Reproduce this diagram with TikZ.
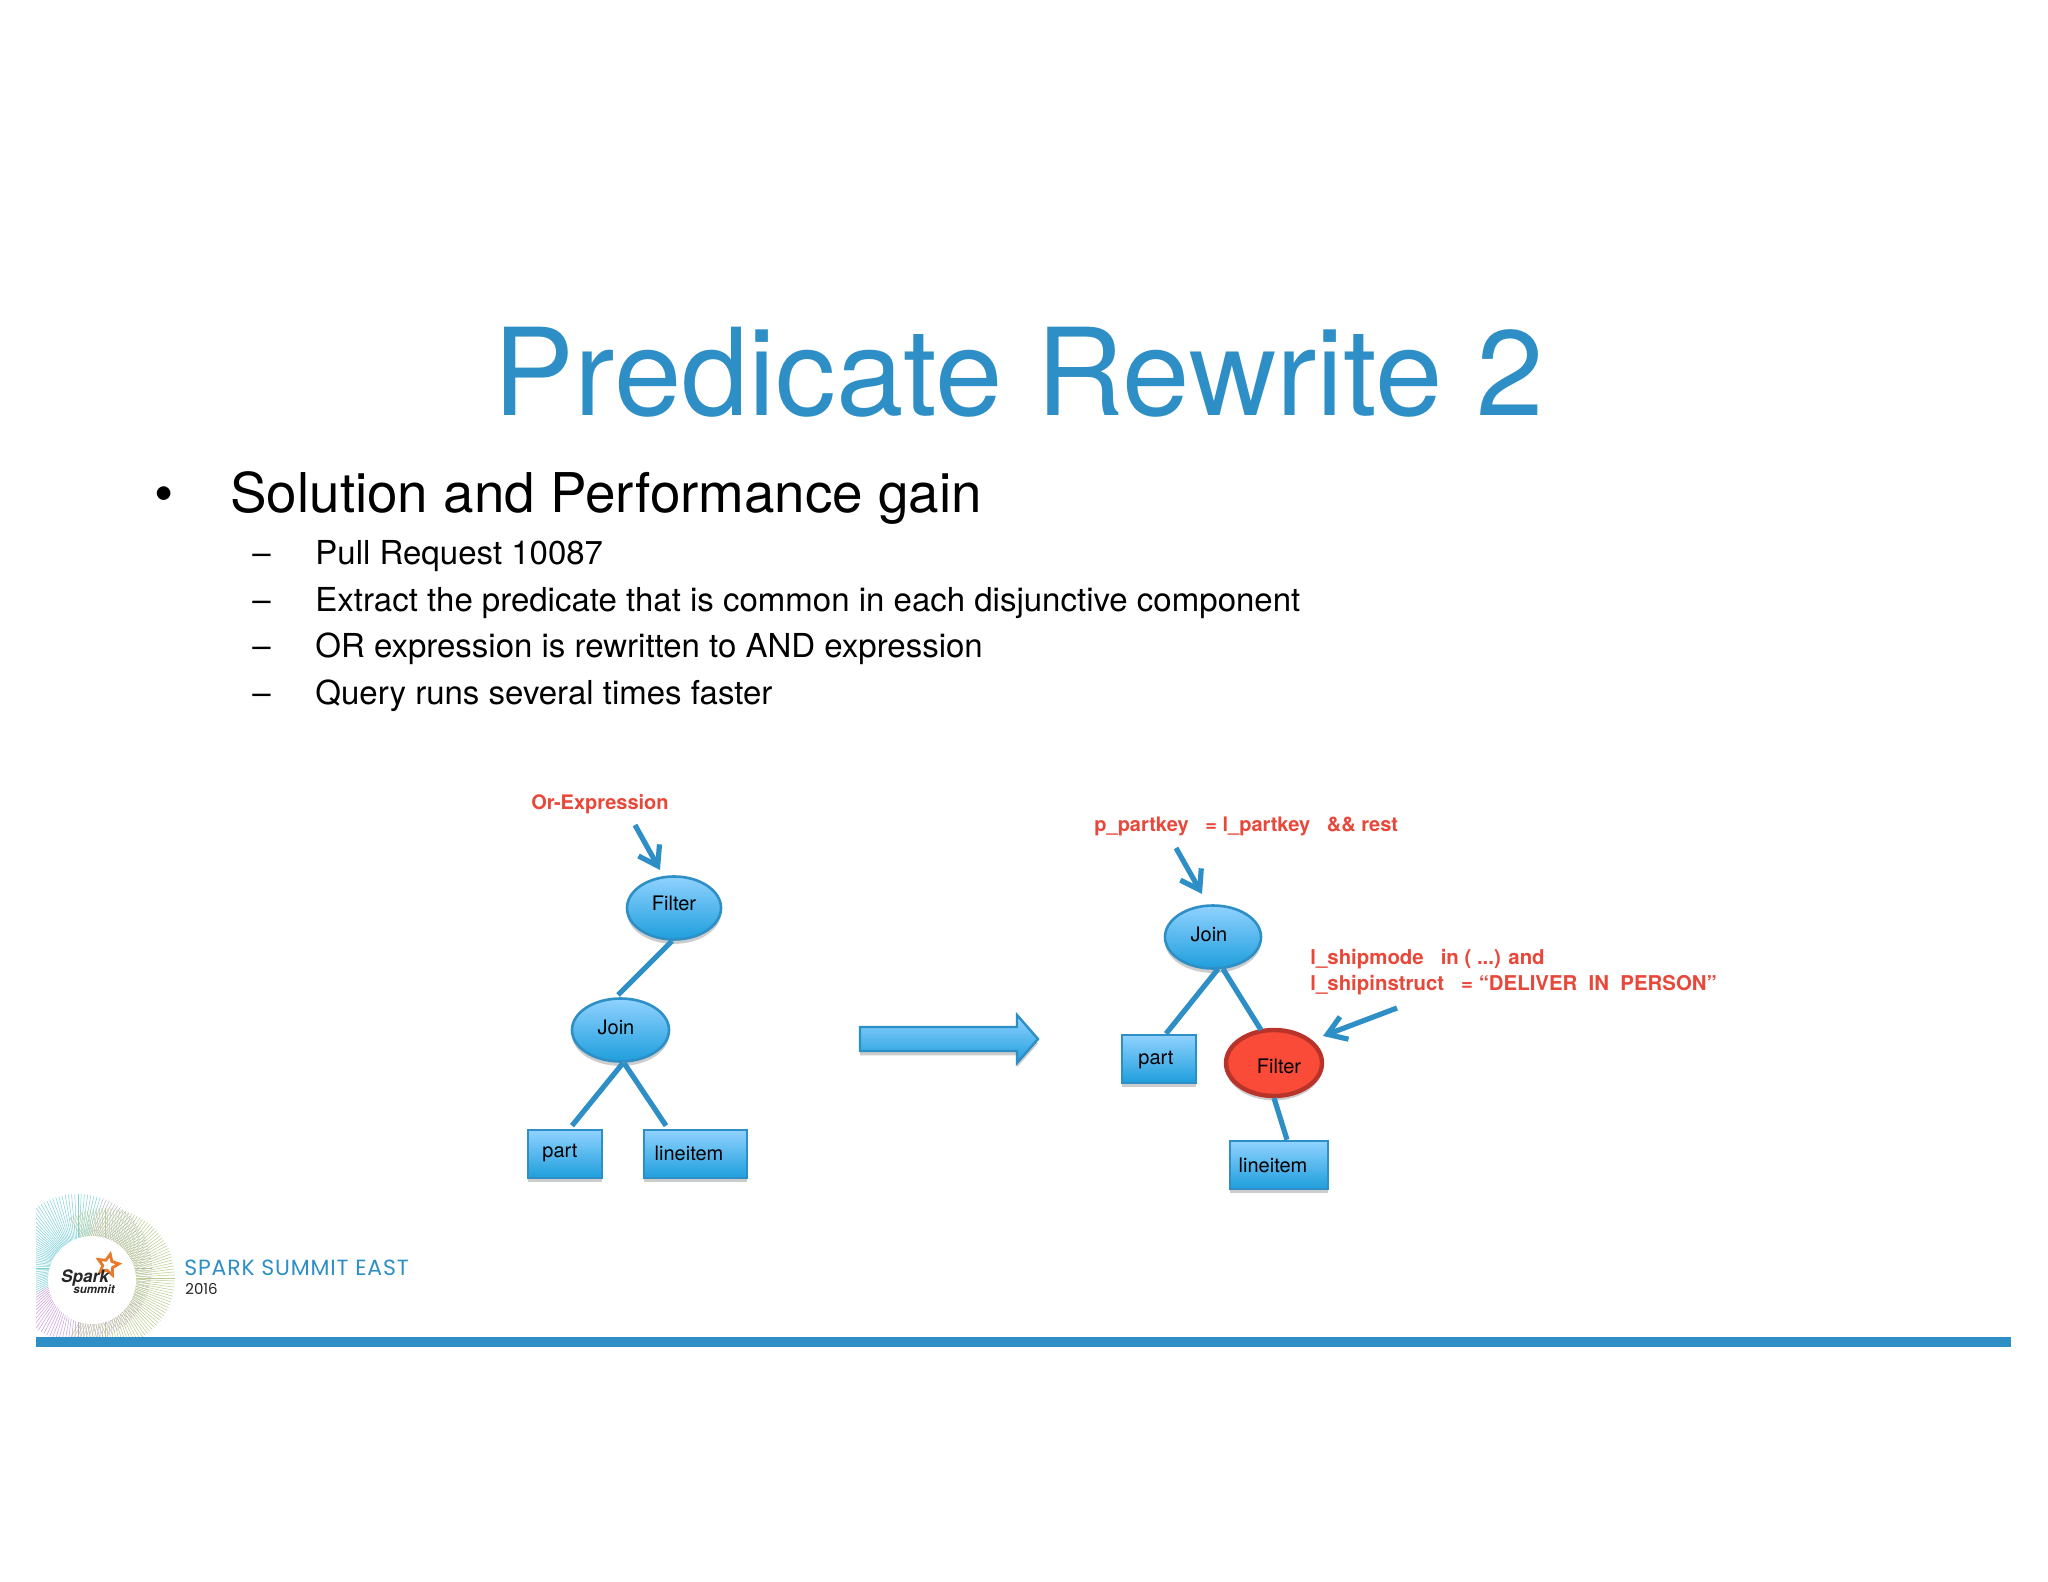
\documentclass[tikz,border=0pt]{standalone}
\usepackage{fontspec}
\setmainfont{TeX Gyre Heros}
\newfontfamily\logofont[LetterSpace=3.8]{Poppins}
\newfontfamily\yearfont{Poppins}
\usetikzlibrary{shapes.geometric,arrows.meta,shadows}
\definecolor{skyblue}{HTML}{2E8FC6}
\definecolor{lighttop}{HTML}{90D2FF}
\definecolor{lightbot}{HTML}{1E9EDC}
\definecolor{redlabel}{HTML}{E8483A}
\definecolor{redfill}{HTML}{FA4A38}
\definecolor{redline}{HTML}{B8332A}
\definecolor{starorange}{HTML}{E8792B}
\definecolor{raypurple}{HTML}{C79FDA}
\definecolor{raygray}{HTML}{B4B8C2}
\definecolor{rayteal}{HTML}{7FD0D8}
\definecolor{raygreen}{HTML}{B9CB8E}
\tikzset{
  softshadow/.style={drop shadow={shadow xshift=0pt,shadow yshift=-2.2pt,opacity=.2,fill=black}},
  bluenode/.style={draw=skyblue,line width=1.3pt,top color=lighttop,bottom color=lightbot,inner sep=0pt,softshadow},
  oval/.style={bluenode,ellipse},
  boxnode/.style={bluenode,rectangle},
  rednode/.style={ellipse,draw=redline,line width=2.2pt,fill=redfill,inner sep=0pt,softshadow},
  edge/.style={draw=skyblue,line width=2.6pt},
  pointer/.style={draw=skyblue,line width=2.6pt,-{Straight Barb[length=9pt,width=12pt,line width=2.6pt]}},
  redtext/.style={text=redlabel,font=\fontsize{10}{12}\selectfont\bfseries,anchor=west,inner sep=0pt},
  redtextb/.style={redtext,font=\fontsize{10.2}{12}\selectfont\bfseries},
  inner/.style={font=\fontsize{10}{12}\selectfont,text=black,inner sep=0pt},
  bullet/.style={anchor=base west,inner sep=0pt,font=\fontsize{27.4}{30}\selectfont},
  sub/.style={anchor=base west,inner sep=0pt,font=\fontsize{16.5}{20}\selectfont}
}
\begin{document}
\begin{tikzpicture}[x=0.5pt,y=-0.5pt]
\useasboundingbox (0,0) rectangle (2048,1582);
\fill[white] (0,0) rectangle (2048,1582);

% title and bullets
\node[inner sep=0pt,text=skyblue,font=\fontsize{60.6}{70}\selectfont] (title) at (1019,372) {Predicate Rewrite 2};
\node[bullet] (b0) at (154,513) {•};
\node[bullet] (t0) at (230,513) {Solution and Performance gain};
\foreach \yy/\nm/\txt in {565/a/Pull Request 10087,
  611/b/Extract the predicate that is common in each disjunctive component,
  657/c/OR expression is rewritten to AND expression,
  704/d/Query runs several times faster}{
  \node[sub] (dash\nm) at (252,\yy) {–};
  \node[sub] (item\nm) at (315,\yy) {\txt};
}

% left tree
\node[oval,minimum width=47pt,minimum height=31.5pt] (f1) at (674,908) {};
\node[inner] (f1t) at (674,903) {Filter};
\node[oval,minimum width=48.5pt,minimum height=31.5pt] (j1) at (620.5,1030) {};
\node[inner] (j1t) at (616,1027) {Join};
\node[boxnode,minimum width=37pt,minimum height=24pt] (p1) at (565,1154) {};
\node[inner] (p1t) at (560,1153) {part};
\node[boxnode,minimum width=51.5pt,minimum height=24pt] (l1) at (695.5,1154) {};
\node[inner] (l1t) at (689,1153) {lineitem};
\draw[edge] ([shift={(-2,33)}]f1.center) -- ([shift={(-2.5,-35)}]j1.center);
\draw[edge] ([shift={(2.5,33)}]j1.center) -- ([shift={(7,-3)}]p1.north);
\draw[edge] ([shift={(3.5,33)}]j1.center) -- ([shift={(-29.5,-3)}]l1.north);
\node[redtext] (or) at (531,804) {Or-Expression};
\coordinate (a1) at (635,825);
\draw[pointer] (a1) -- ([shift={(-14,-38)}]f1.center);

% block arrow
\draw[draw=skyblue,line width=1.2pt,top color=lighttop,bottom color=lightbot,softshadow]
  (860,1027) -- (1017,1027) -- (1017,1015) -- (1038,1039) -- (1017,1063) -- (1017,1051) -- (860,1051) -- cycle;

% right tree
\node[oval,minimum width=48pt,minimum height=31.5pt] (j2) at (1213,937) {};
\node[inner] (j2t) at (1209,934) {Join};
\node[boxnode,minimum width=37pt,minimum height=24pt] (p2) at (1159,1059) {};
\node[inner] (p2t) at (1156,1060) {part};
\node[rednode,minimum width=48pt,minimum height=33pt] (f2) at (1274,1063) {};
\node[inner] (f2t) at (1279,1066) {Filter};
\node[boxnode,minimum width=49pt,minimum height=24pt] (l2) at (1279,1165) {};
\node[inner] (l2t) at (1273,1165) {lineitem};
\draw[edge] ([shift={(5,32)}]j2.center) -- ([shift={(7,0)}]p2.north);
\draw[edge] ([shift={(10,32)}]j2.center) -- ([shift={(-13,-33)}]f2.center);
\draw[edge] ([shift={(0,35)}]f2.center) -- ([shift={(8,0)}]l2.north);
\node[redtext] (pk) at (1094,826) {p\_partkey \ \ = l\_partkey \ \ \&\& rest};
\coordinate (a2) at (1176,848);
\draw[pointer] (a2) -- ([shift={(-11,-43)}]j2.center);
\node[redtextb] (sm) at (1310,959) {l\_shipmode \ \ in ( ...) and};
\node[redtextb] (si) at (1310,985) {l\_shipinstruct \ \ = “DELIVER \ IN \ PERSON”};
\coordinate (a3) at (1397,1008);
\draw[pointer] (a3) -- ([shift={(49,-27)}]f2.center);

% footer logo rays
\begin{scope}
\clip (36,1180) rectangle (200,1337);
\foreach \a in {0,2.5,...,357.5}{
  \pgfmathtruncatemacro{\wedgeid}{\a>=30 && \a<150 ? 1 : (\a>=150 && \a<290 ? 2 : 0)}
  \ifcase\wedgeid \def\raycol{raygray}\or \def\raycol{raypurple}\or \def\raycol{rayteal}\fi
  \draw[\raycol,line width=.25pt] (78,1268) -- ++(\a:74);
}
\foreach \a in {-120,-117.5,...,120}{
  \draw[raygreen,line width=.25pt] (105,1278) -- ++(\a:70);
}
\end{scope}
\fill[skyblue] (36,1337) rectangle (2011,1347);
\node[circle,fill=white,minimum size=44pt,inner sep=0pt] (logo) at (92,1280) {};
\node[star,star points=5,star point ratio=2.1,draw=starorange,line width=1.4pt,fill=white,minimum size=11pt,inner sep=0pt,rotate=-12] (star) at (108,1265) {};
\node[inner sep=0pt,font=\fontsize{8.6}{10}\selectfont\itshape\bfseries,text=black!85] (spark) at (85,1278) {Spark};
\node[inner sep=0pt,font=\fontsize{5.8}{7}\selectfont\itshape\bfseries,text=black!85] (summit) at (94,1289.5) {summit};
\node[anchor=west,inner sep=0pt,text=skyblue,font=\logofont\fontsize{11}{13}\selectfont] (se) at (184,1268) {SPARK SUMMIT EAST};
\node[anchor=west,inner sep=0pt,text=black!85,font=\yearfont\fontsize{7.5}{9}\selectfont] (yr) at (185,1289) {2016};
\end{tikzpicture}
\end{document}
